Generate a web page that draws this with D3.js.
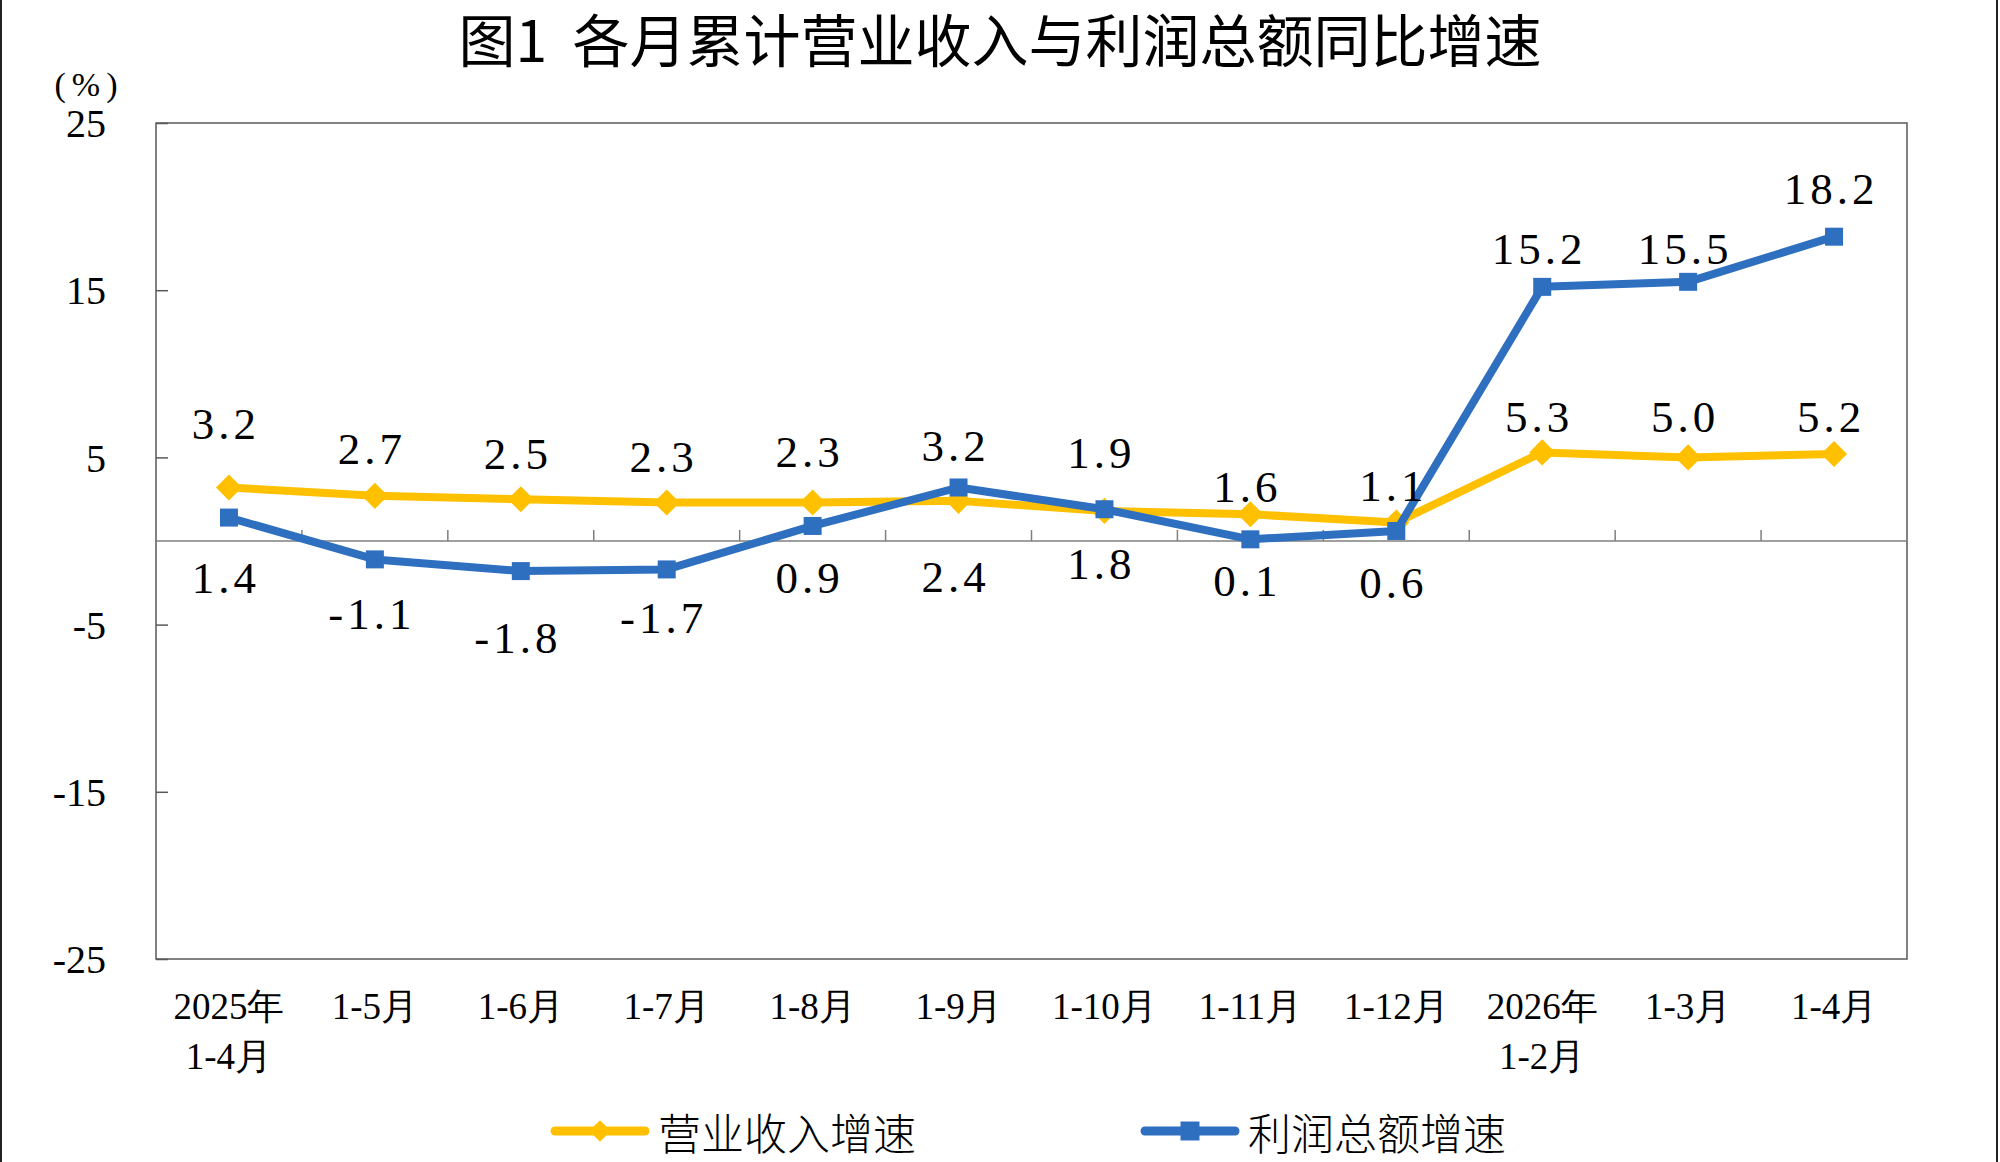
<!DOCTYPE html>
<html>
<head>
<meta charset="utf-8">
<script src="https://cdn.jsdelivr.net/npm/d3@7"></script>
<style>
  body { margin: 0; background: #fff; }
  text { font-family: "Liberation Serif", "Times New Roman", serif; fill: #000; }
  .cjk { font-family: "Noto Sans CJK SC", sans-serif; }
</style>
</head>
<body>
<div id="chart_div"></div>
<script>
// data
const categories = ["2025年\n1-4月", "1-5月", "1-6月", "1-7月", "1-8月", "1-9月",
  "1-10月", "1-11月", "1-12月", "2026年\n1-2月", "1-3月", "1-4月"];
const revenueGrowth = [3.2, 2.7, 2.5, 2.3, 2.3, 2.4, 1.8, 1.6, 1.1, 5.3, 5.0, 5.2];
const profitGrowth = [1.4, -1.1, -1.8, -1.7, 0.9, 3.2, 1.9, 0.1, 0.6, 15.2, 15.5, 18.2];
const yTicks = [25, 15, 5, -5, -15, -25];
const seriesNames = ["营业收入增速", "利润总额增速"];
const titleText = "图1  各月累计营业收入与利润总额同比增速";

// hand placed data labels (px offset from the point, like in the original)
const revenueLabelDy = [-63, -47, -45, -46, -51, 76, 53, -27, -37, -35, -40, -37];
const profitLabelDy = [60, 55, 67, 49, 52, -41, -56, 42, 52, -38, -33, -48];

const REV_COLOR = "#FFC000";
const PROFIT_COLOR = "#2E6FC0";

// plain hyphen for negatives, like the original
const fmt1 = d => d.toFixed(1);
const fmt0 = d => String(d);

// set the dimensions and margins of the graph
const margin = { top: 123, right: 93, bottom: 203, left: 156 },
  W = 2000, H = 1162,
  width = W - margin.left - margin.right,
  height = H - margin.top - margin.bottom;

const svg = d3.select("#chart_div")
  .append("svg")
  .attr("width", W)
  .attr("height", H)
  .attr("viewBox", `0 0 ${W} ${H}`);

// page frame (left / right edges)
svg.append("line").attr("x1", 1).attr("x2", 1).attr("y1", 0).attr("y2", H)
  .attr("stroke", "#222").attr("stroke-width", 2);
svg.append("line").attr("x1", W - 3).attr("x2", W - 3).attr("y1", 0).attr("y2", H)
  .attr("stroke", "#222").attr("stroke-width", 2);

// title
svg.append("text")
  .attr("class", "cjk")
  .attr("x", W / 2)
  .attr("y", 37)
  .attr("text-anchor", "middle")
  .attr("dominant-baseline", "central")
  .style("font-size", "57px")
  .style("font-weight", 400)
  .style("white-space", "pre")
  .text(titleText);

// unit
svg.append("text")
  .attr("x", 89)
  .attr("y", 84)
  .attr("text-anchor", "middle")
  .attr("dominant-baseline", "central")
  .style("font-size", "34px")
  .style("letter-spacing", "6px")
  .text("(%)");

const g = svg.append("g")
  .attr("transform", `translate(${margin.left},${margin.top})`);

const x = d3.scaleBand()
  .domain(categories)
  .range([0, width])
  .padding(0);

const y = d3.scaleLinear()
  .domain([-25, 25])
  .range([height, 0]);

const cx = d => x(d) + x.bandwidth() / 2;

// plot border
g.append("rect")
  .attr("x", 0).attr("y", 0)
  .attr("width", width).attr("height", height)
  .attr("fill", "none")
  .attr("stroke", "#595959")
  .attr("stroke-width", 1.5);

// Y axis
const yAxis = g.append("g")
  .call(d3.axisLeft(y).tickValues(yTicks).tickSize(-12).tickPadding(50).tickFormat(fmt0));
yAxis.select(".domain").remove();
yAxis.selectAll(".tick line").attr("stroke", "#595959").attr("stroke-width", 1.5);
yAxis.selectAll(".tick text")
  .attr("font-family", null)
  .style("font-size", "40px")
  .attr("dy", "0.34em");

// zero line with category ticks
g.append("line")
  .attr("x1", 0).attr("x2", width)
  .attr("y1", y(0)).attr("y2", y(0))
  .attr("stroke", "#7f7f7f")
  .attr("stroke-width", 1.5);

g.selectAll(".cat-tick")
  .data(categories.slice(1))
  .enter()
  .append("line")
  .attr("class", "cat-tick")
  .attr("x1", d => x(d)).attr("x2", d => x(d))
  .attr("y1", y(0)).attr("y2", y(0) - 11)
  .attr("stroke", "#7f7f7f")
  .attr("stroke-width", 1.5);

// category labels (bottom)
const catLabels = g.selectAll(".cat-label")
  .data(categories)
  .enter()
  .append("text")
  .attr("class", "cat-label")
  .attr("text-anchor", "middle")
  .style("font-size", "37px");

catLabels.selectAll("tspan")
  .data(d => d.split("\n").map(t => ({ t, d })))
  .enter()
  .append("tspan")
  .attr("x", o => cx(o.d))
  .attr("y", (o, i) => height + 47 + i * 50)
  .attr("dominant-baseline", "central")
  .text(o => o.t);

// lines
const line = d3.line()
  .x((d, i) => cx(categories[i]))
  .y(d => y(d));

const drawSeries = (values, color, symbolType, symbolSize, rotate) => {
  g.append("path")
    .datum(values)
    .attr("fill", "none")
    .attr("stroke", color)
    .attr("stroke-width", 8)
    .attr("stroke-linejoin", "round")
    .attr("d", line);

  g.selectAll(null)
    .data(values)
    .enter()
    .append("path")
    .attr("d", d3.symbol().type(symbolType).size(symbolSize))
    .attr("transform", (d, i) => `translate(${cx(categories[i])},${y(d)}) rotate(${rotate})`)
    .attr("fill", color);
};

drawSeries(revenueGrowth, REV_COLOR, d3.symbolSquare, 340, 45);
drawSeries(profitGrowth, PROFIT_COLOR, d3.symbolSquare, 324, 0);

// data labels
const drawLabels = (values, offsets) => {
  g.selectAll(null)
    .data(values)
    .enter()
    .append("text")
    .attr("x", (d, i) => cx(categories[i]) - 3)
    .attr("y", (d, i) => y(d) + offsets[i])
    .attr("text-anchor", "middle")
    .attr("dominant-baseline", "central")
    .style("font-size", "45px")
    .style("letter-spacing", "4px")
    .text(fmt1);
};

drawLabels(revenueGrowth, revenueLabelDy);
drawLabels(profitGrowth, profitLabelDy);

// legend
const legendKeys = [
  { text: seriesNames[0], color: REV_COLOR, type: d3.symbolSquare, size: 230, rotate: 45, x0: 555 },
  { text: seriesNames[1], color: PROFIT_COLOR, type: d3.symbolSquare, size: 360, rotate: 0, x0: 1145 }
];
const legendY = 1131;
const legendLen = 90;

const leg = svg.selectAll(".legend")
  .data(legendKeys)
  .enter()
  .append("g")
  .attr("class", "legend");

leg.append("line")
  .attr("x1", d => d.x0).attr("x2", d => d.x0 + legendLen)
  .attr("y1", legendY).attr("y2", legendY)
  .attr("stroke", d => d.color)
  .attr("stroke-width", 9)
  .attr("stroke-linecap", "round");

leg.append("path")
  .attr("d", d => d3.symbol().type(d.type).size(d.size)())
  .attr("transform", d => `translate(${d.x0 + legendLen / 2},${legendY}) rotate(${d.rotate})`)
  .attr("fill", d => d.color);

leg.append("text")
  .attr("class", "cjk")
  .attr("x", d => d.x0 + legendLen + 13)
  .attr("y", legendY)
  .attr("dominant-baseline", "central")
  .style("font-size", "43px")
  .style("font-weight", 300)
  .text(d => d.text);
</script>
</body>
</html>
